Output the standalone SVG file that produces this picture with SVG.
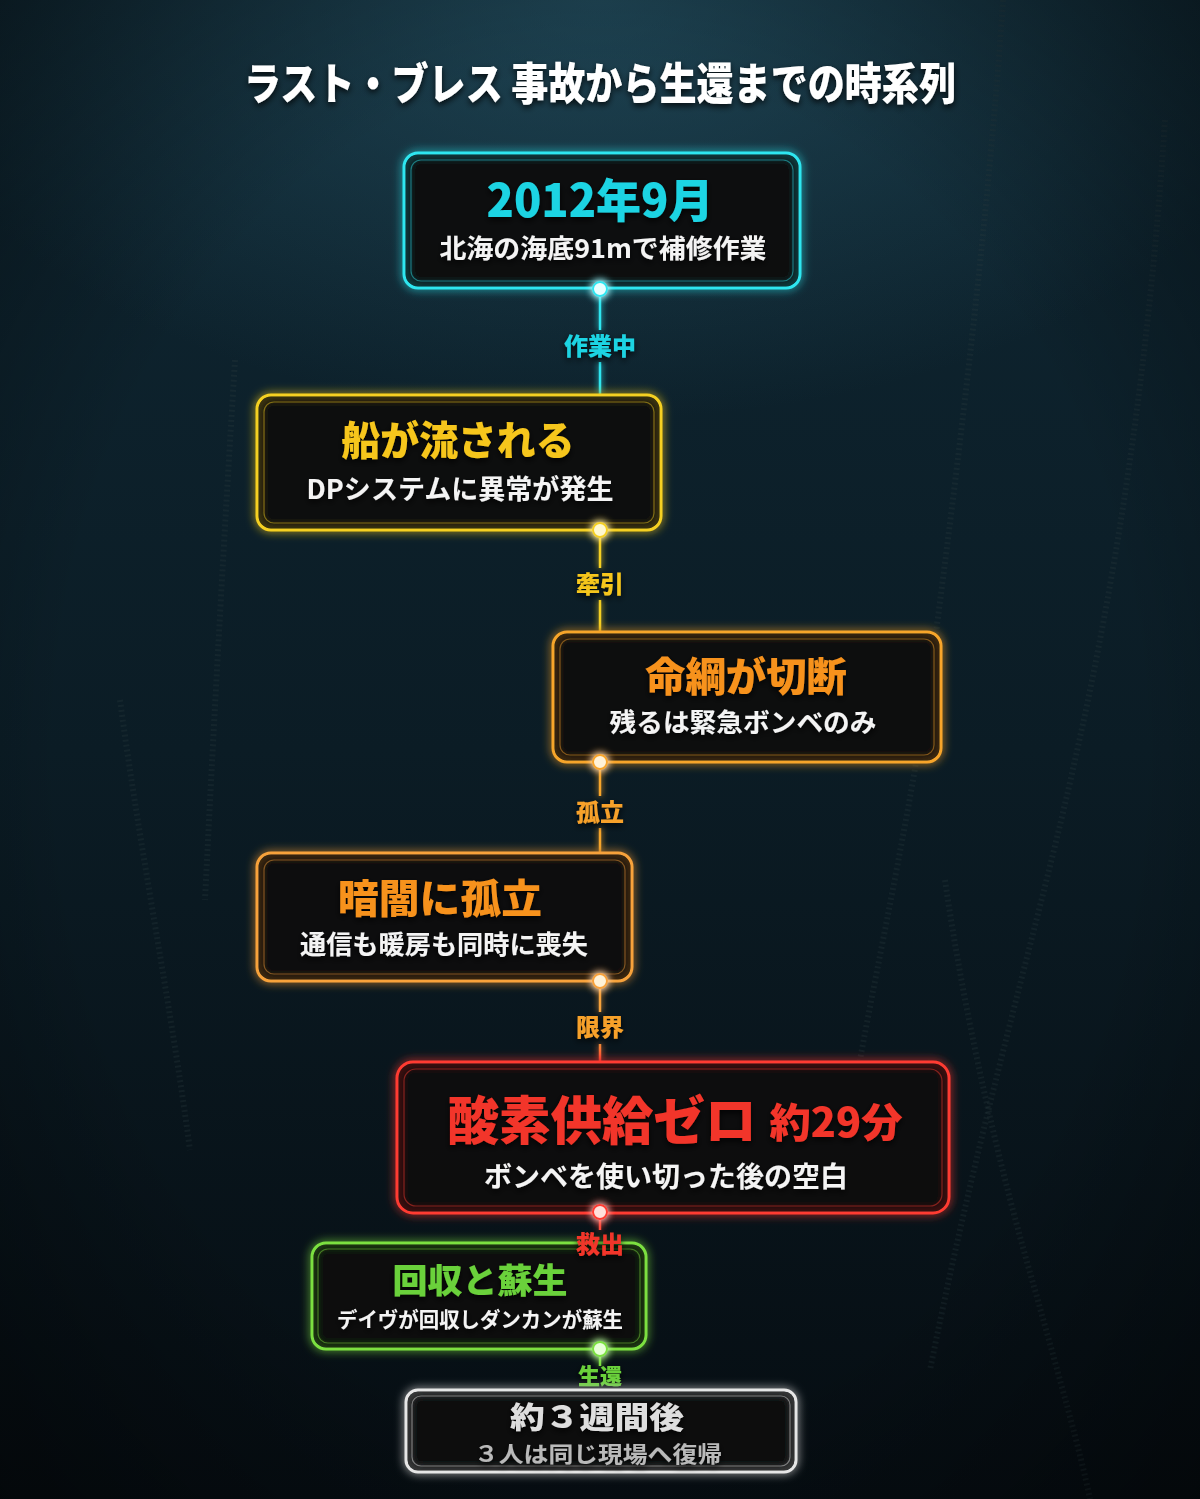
<svg xmlns="http://www.w3.org/2000/svg" width="1200" height="1499" viewBox="0 0 1200 1499">
<defs>
<linearGradient id="bg" x1="0" y1="0" x2="0" y2="1">
<stop offset="0" stop-color="#0f2733"/>
<stop offset="0.5" stop-color="#0b1c25"/>
<stop offset="1" stop-color="#060d12"/>
</linearGradient>
<radialGradient id="topglow" cx="0.5" cy="0" r="0.6">
<stop offset="0" stop-color="#2a5a6c" stop-opacity="0.55"/>
<stop offset="1" stop-color="#2a5a6c" stop-opacity="0"/>
</radialGradient>
<radialGradient id="vig" cx="0.5" cy="0.5" r="0.75">
<stop offset="0.6" stop-color="#000" stop-opacity="0"/>
<stop offset="1" stop-color="#000" stop-opacity="0.5"/>
</radialGradient>
<linearGradient id="orangeRed" gradientUnits="userSpaceOnUse" x1="0" y1="1040" x2="0" y2="1062">
<stop offset="0" stop-color="#f7a23a"/>
<stop offset="1" stop-color="#ff3b30"/>
</linearGradient>
<filter id="glow" x="-20%" y="-30%" width="140%" height="160%">
<feGaussianBlur in="SourceGraphic" stdDeviation="5" result="b"/>
<feMerge><feMergeNode in="b"/><feMergeNode in="SourceGraphic"/></feMerge>
</filter>
<filter id="lglow" filterUnits="userSpaceOnUse" x="0" y="0" width="1200" height="1499">
<feGaussianBlur in="SourceGraphic" stdDeviation="3" result="b"/>
<feMerge><feMergeNode in="b"/><feMergeNode in="SourceGraphic"/></feMerge>
</filter>
<filter id="tglow" x="-20%" y="-50%" width="140%" height="200%">
<feGaussianBlur in="SourceAlpha" stdDeviation="3" result="s"/>
<feOffset in="s" dx="0" dy="3" result="o"/>
<feComponentTransfer in="o" result="oa"><feFuncA type="linear" slope="0.8"/></feComponentTransfer>
<feMerge><feMergeNode in="oa"/><feMergeNode in="SourceGraphic"/></feMerge>
</filter>
<filter id="dotglow" x="-200%" y="-200%" width="500%" height="500%">
<feGaussianBlur in="SourceGraphic" stdDeviation="4" result="b"/>
<feMerge><feMergeNode in="b"/><feMergeNode in="b"/><feMergeNode in="SourceGraphic"/></feMerge>
</filter>
</defs>
<style>
text{font-family:"Noto Sans CJK JP","Noto Sans CJK SC",sans-serif;font-weight:900;text-anchor:middle}
.box{fill:#0a0c0e;fill-opacity:0.82;stroke-width:3}
.inner{fill:none;stroke-width:1.2;stroke-opacity:0.45}
.sub{fill:#f4f4f4;font-weight:700}
.lbl{font-size:24px;font-weight:900}
.rope{fill:none;stroke:#2c3a3e;stroke-width:6;stroke-dasharray:2 3;opacity:0.3}
.conn{stroke-width:2.5;fill:none}
</style>

<g id="background">
<rect width="1200" height="1499" fill="url(#bg)"/>
<rect width="1200" height="700" fill="url(#topglow)"/>
<path class="rope" d="M1003,0 C990,200 960,450 935,640 C915,790 880,950 860,1060"/>
<path class="rope" d="M1165,120 C1150,350 1120,560 1075,760 C1040,920 980,1120 930,1370"/>
<path class="rope" d="M945,880 C965,1020 1000,1170 1035,1290 C1060,1380 1080,1450 1090,1499"/>
<path class="rope" d="M235,360 C225,520 215,700 205,900"/>
<path class="rope" d="M120,700 C140,850 170,1000 190,1150"/>
<rect width="1200" height="1499" fill="url(#vig)"/>
</g>

<g id="title">
<text x="600" y="100" font-size="44" fill="#ffffff" textLength="712" lengthAdjust="spacingAndGlyphs" filter="url(#tglow)">ラスト・ブレス 事故から生還までの時系列</text>
</g>

<g id="connectors" filter="url(#lglow)">
<line class="conn" x1="600" y1="289" x2="600" y2="330" stroke="#2ee6f0"/>
<line class="conn" x1="600" y1="362" x2="600" y2="395" stroke="#2ee6f0"/>
<line class="conn" x1="600" y1="530" x2="600" y2="568" stroke="#f5d020"/>
<line class="conn" x1="600" y1="600" x2="600" y2="632" stroke="#f5d020"/>
<line class="conn" x1="600" y1="762" x2="600" y2="796" stroke="#f7a52a"/>
<line class="conn" x1="600" y1="828" x2="600" y2="853" stroke="#f7a52a"/>
<line class="conn" x1="600" y1="981" x2="600" y2="1012" stroke="#f7a23a"/>
<line class="conn" x1="600" y1="1044" x2="600" y2="1062" stroke="url(#orangeRed)"/>
<line class="conn" x1="600" y1="1213" x2="600" y2="1230" stroke="#ff4a3a"/>
<line class="conn" x1="600" y1="1350" x2="600" y2="1366" stroke="#7be040"/>
</g>

<g id="node1">
<rect class="box" x="404" y="153" width="396" height="135" rx="14" stroke="#2ee6f0" filter="url(#glow)"/>
<rect class="inner" x="411" y="160" width="382" height="121" rx="10" stroke="#2ee6f0"/>
<text x="600" y="217" font-size="46" fill="#1fd4e3" textLength="227" lengthAdjust="spacingAndGlyphs" filter="url(#tglow)">2012年9月</text>
<text class="sub" x="603" y="258" font-size="26" textLength="327" lengthAdjust="spacingAndGlyphs" filter="url(#tglow)">北海の海底91mで補修作業</text>
<circle cx="600" cy="289" r="7" fill="#e8ffff" stroke="#2ee6f0" stroke-width="2" filter="url(#dotglow)"/>
</g>
<g id="label1"><text class="lbl" x="600" y="355" fill="#1fd4e3" filter="url(#tglow)">作業中</text></g>

<g id="node2">
<rect class="box" x="257" y="395" width="404" height="135" rx="14" stroke="#f5d020" filter="url(#glow)"/>
<rect class="inner" x="264" y="402" width="390" height="121" rx="10" stroke="#f5d020"/>
<text x="458" y="455" font-size="40" fill="#f6c61c" textLength="233" lengthAdjust="spacingAndGlyphs" filter="url(#tglow)">船が流される</text>
<text class="sub" x="460" y="499" font-size="27" textLength="307" lengthAdjust="spacingAndGlyphs" filter="url(#tglow)">DPシステムに異常が発生</text>
<circle cx="600" cy="530" r="7" fill="#fff8d0" stroke="#f5d020" stroke-width="2" filter="url(#dotglow)"/>
</g>
<g id="label2"><text class="lbl" x="600" y="593" fill="#f6c61c" filter="url(#tglow)">牽引</text></g>

<g id="node3">
<rect class="box" x="553" y="632" width="388" height="130" rx="14" stroke="#f7a52a" filter="url(#glow)"/>
<rect class="inner" x="560" y="639" width="374" height="116" rx="10" stroke="#f7a52a"/>
<text x="746" y="691" font-size="40" fill="#f7921e" textLength="202" lengthAdjust="spacingAndGlyphs" filter="url(#tglow)">命綱が切断</text>
<text class="sub" x="743" y="732" font-size="26" textLength="267" lengthAdjust="spacingAndGlyphs" filter="url(#tglow)">残るは緊急ボンベのみ</text>
<circle cx="600" cy="762" r="7" fill="#fff2d8" stroke="#f7a52a" stroke-width="2" filter="url(#dotglow)"/>
</g>
<g id="label3"><text class="lbl" x="600" y="821" fill="#f7a12a" filter="url(#tglow)">孤立</text></g>

<g id="node4">
<rect class="box" x="257" y="853" width="375" height="128" rx="14" stroke="#f7a23a" filter="url(#glow)"/>
<rect class="inner" x="264" y="860" width="361" height="114" rx="10" stroke="#f7a23a"/>
<text x="440" y="913" font-size="40" fill="#f7921e" textLength="204" lengthAdjust="spacingAndGlyphs" filter="url(#tglow)">暗闇に孤立</text>
<text class="sub" x="444" y="954" font-size="26" textLength="288" lengthAdjust="spacingAndGlyphs" filter="url(#tglow)">通信も暖房も同時に喪失</text>
<circle cx="600" cy="981" r="7" fill="#fff2d8" stroke="#f7a23a" stroke-width="2" filter="url(#dotglow)"/>
</g>
<g id="label4"><text class="lbl" x="600" y="1036" fill="#f7a12a" filter="url(#tglow)">限界</text></g>

<g id="node5">
<rect class="box" x="397" y="1062" width="552" height="151" rx="16" stroke="#ff3b30" filter="url(#glow)"/>
<rect class="inner" x="404" y="1069" width="538" height="137" rx="12" stroke="#ff3b30"/>
<text x="602" y="1140" font-size="52" fill="#f2362a" textLength="309" lengthAdjust="spacingAndGlyphs" filter="url(#tglow)">酸素供給ゼロ</text>
<text x="836" y="1137" font-size="40" fill="#f2362a" textLength="133" lengthAdjust="spacingAndGlyphs" filter="url(#tglow)">約29分</text>
<text class="sub" x="666" y="1187" font-size="28" textLength="364" lengthAdjust="spacingAndGlyphs" filter="url(#tglow)">ボンベを使い切った後の空白</text>
<circle cx="600" cy="1212" r="7" fill="#ffe0dc" stroke="#ff3b30" stroke-width="2" filter="url(#dotglow)"/>
</g>

<g id="node6">
<rect class="box" x="312" y="1243" width="334" height="106" rx="14" stroke="#7be040" filter="url(#glow)"/>
<rect class="inner" x="318" y="1249" width="322" height="94" rx="10" stroke="#7be040"/>
<text x="480" y="1293" font-size="34" fill="#6ad13a" textLength="175" lengthAdjust="spacingAndGlyphs" filter="url(#tglow)">回収と蘇生</text>
<text class="sub" x="480" y="1327" font-size="21" textLength="286" lengthAdjust="spacingAndGlyphs" filter="url(#tglow)">デイヴが回収しダンカンが蘇生</text>
<circle cx="600" cy="1349" r="7" fill="#e8ffd8" stroke="#7be040" stroke-width="2" filter="url(#dotglow)"/>
</g>
<g id="label5"><text class="lbl" x="600" y="1253" fill="#f2362a" filter="url(#tglow)">救出</text></g>
<g id="label6"><text class="lbl" x="600" y="1384" fill="#6ad13a" style="font-size:22px" filter="url(#tglow)">生還</text></g>

<g id="node7">
<rect class="box" x="406" y="1390" width="390" height="82" rx="12" stroke="#e6e6e6" filter="url(#glow)"/>
<rect class="inner" x="412" y="1396" width="378" height="70" rx="9" stroke="#e6e6e6"/>
<text x="597" y="1428" font-size="30" fill="#dedede" textLength="174" lengthAdjust="spacingAndGlyphs" filter="url(#tglow)">約３週間後</text>
<text class="sub" x="598" y="1462" font-size="22" style="fill:#b9b9b9" textLength="248" lengthAdjust="spacingAndGlyphs" filter="url(#tglow)">３人は同じ現場へ復帰</text>
</g>
</svg>
